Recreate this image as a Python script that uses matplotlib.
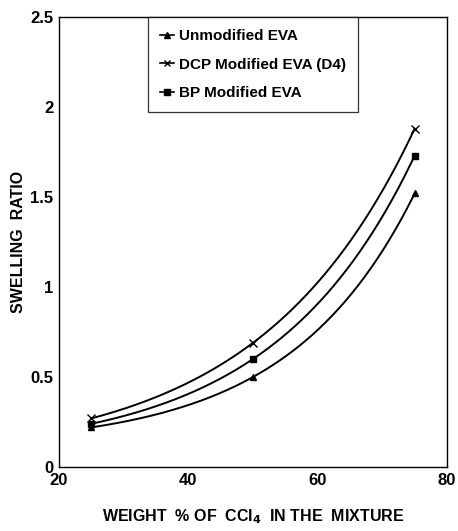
import numpy as np
import matplotlib.pyplot as plt

plt.rcParams['font.family'] = ['Liberation Sans', 'DejaVu Sans']
plt.rcParams['font.weight'] = 'bold'

# dados
peso_ccl4 = [25, 50, 75]
unmodified = [0.22, 0.50, 1.52]
dcp_modified = [0.27, 0.69, 1.88]
bp_modified = [0.24, 0.60, 1.73]

series = [
    ("Unmodified EVA", unmodified, '^'),
    ("DCP Modified EVA (D4)", dcp_modified, 'x'),
    ("BP Modified EVA", bp_modified, 's'),
]


def curva(x, y, xs):
    # curva y = a + b*exp(c*x) passando pelos 3 pontos (espacamento igual)
    h = x[1] - x[0]
    r = (y[2] - y[1]) / (y[1] - y[0])
    c = np.log(r) / h
    b = (y[1] - y[0]) / (np.exp(c * x[1]) - np.exp(c * x[0]))
    a = y[0] - b * np.exp(c * x[0])
    return a + b * np.exp(c * xs)


fig = plt.figure(figsize=(4.58, 5.31), dpi=100)
ax = fig.add_axes([59 / 458, 1 - 467 / 531, 388 / 458, 450 / 531])

xs = np.linspace(peso_ccl4[0], peso_ccl4[-1], 200)
for nome, vals, mk in series:
    ax.plot(xs, curva(peso_ccl4, vals, xs), color='black', lw=1.4)
    ax.plot(peso_ccl4, vals, linestyle='none', marker=mk, color='black',
            markersize=5 if mk != 'x' else 6, mew=1.0)
    ax.plot([], [], color='black', lw=1.2, marker=mk, markersize=5, label=nome)

ax.set_xlim(20, 80)
ax.set_ylim(0, 2.5)
ax.set_xticks([20, 40, 60, 80])
ax.set_yticks([0, 0.5, 1, 1.5, 2, 2.5])
ax.set_yticklabels(['0', '0.5', '1', '1.5', '2', '2.5'])
ax.tick_params(length=0, labelsize=12, pad=4)
for s in ax.spines.values():
    s.set_linewidth(1.0)

ax.set_xlabel("WEIGHT  % OF  CCl$_\\mathbf{4}$  IN THE  MIXTURE", fontsize=11.5,
              fontweight='bold', labelpad=14)
ax.set_ylabel("SWELLING  RATIO", fontsize=11.5, fontweight='bold', labelpad=3)

leg = ax.legend(loc='upper left', bbox_to_anchor=(89 / 388, 1.0), fontsize=11,
                frameon=True, fancybox=False, edgecolor='black',
                handlelength=0.9, handletextpad=0.3, borderpad=0.8,
                labelspacing=0.95, borderaxespad=0)
leg.get_frame().set_linewidth(0.9)
for t in leg.get_texts():
    t.set_fontweight('bold')

fig.savefig('out.png', dpi=100)
